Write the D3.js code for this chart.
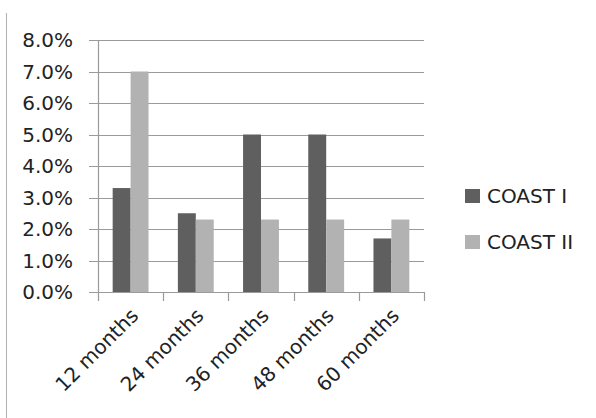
<!DOCTYPE html>
<html>
<head>
<meta charset="utf-8">
<script src="https://cdn.jsdelivr.net/npm/d3@7"></script>
<style>
  body { margin: 0; background: #fff; }
  text { font-family: "DejaVu Sans", sans-serif; fill: #222; }
</style>
</head>
<body>
<svg width="596" height="418"></svg>
<script>
var categories = ["12 months", "24 months", "36 months", "48 months", "60 months"];
var seriesNames = ["COAST I", "COAST II"];
var coast1 = [3.3, 2.5, 5.0, 5.0, 1.7];
var coast2 = [7.0, 2.3, 2.3, 2.3, 2.3];
var yTicks = [0, 1, 2, 3, 4, 5, 6, 7, 8];
var colors = ["#5f5f5f", "#b2b2b2"];

var margin = {top: 40, left: 98, right: 172, bottom: 126};
var svg = d3.select("svg");
var width = +svg.attr("width") - margin.left - margin.right;
var height = +svg.attr("height") - margin.top - margin.bottom;

// frame line on the left
svg.append("line")
  .attr("x1", 6.5).attr("x2", 6.5).attr("y1", 13).attr("y2", 418)
  .attr("stroke", "#b0b0b0");

var g = svg.append("g").attr("transform", `translate(${margin.left}, ${margin.top})`);

var x = d3.scaleBand().domain(categories).range([0, width]).paddingInner(0.45).paddingOuter(0.225);
var x1 = d3.scaleBand().domain(seriesNames).range([0, x.bandwidth()]);
var y = d3.scaleLinear().domain([0, 8]).range([height, 0]);

// gridlines
g.append("g").selectAll("line").data(yTicks).enter().append("line")
  .attr("x1", -9).attr("x2", width)
  .attr("y1", d => Math.round(y(d)) + 0.5).attr("y2", d => Math.round(y(d)) + 0.5)
  .attr("stroke", "#9a9a9a").attr("stroke-width", 1.2);

var rows = categories.map((c, i) => ({cat: c, vals: [coast1[i], coast2[i]]}));

g.append("g").selectAll("g").data(rows).enter().append("g")
  .attr("transform", d => `translate(${x(d.cat)},0)`)
  .selectAll("rect").data(d => d.vals.map((v, j) => ({name: seriesNames[j], v: v, j: j})))
  .enter().append("rect")
  .attr("x", d => x1(d.name))
  .attr("width", x1.bandwidth())
  .attr("y", d => y(d.v))
  .attr("height", d => y(0) - y(d.v))
  .attr("fill", d => colors[d.j]);

// y axis labels
g.append("g").selectAll("text").data(yTicks).enter().append("text")
  .attr("x", -25).attr("y", d => y(d)).attr("dy", "0.36em")
  .attr("text-anchor", "end").style("font-size", "20px")
  .text(d => d.toFixed(1) + "%");

// y axis line
g.append("line").attr("x1", 0.5).attr("x2", 0.5).attr("y1", 0).attr("y2", height)
  .attr("stroke", "#9a9a9a").attr("stroke-width", 1.2);

// x axis ticks at band edges
var edges = d3.range(categories.length + 1).map(i => i * x.step());
g.append("g").selectAll("line").data(edges).enter().append("line")
  .attr("x1", d => Math.round(d) + 0.5).attr("x2", d => Math.round(d) + 0.5)
  .attr("y1", height).attr("y2", height + 9)
  .attr("stroke", "#9a9a9a").attr("stroke-width", 1.2);

// x labels
g.append("g").selectAll("text").data(categories).enter().append("text")
  .attr("transform", d => `translate(${x(d) + x.bandwidth() / 2 + 9},${height + 25}) rotate(-45)`)
  .attr("text-anchor", "end").style("font-size", "20px")
  .text(d => d);

// legend
var legend = svg.append("g").attr("transform", "translate(465,189)");
seriesNames.forEach(function(n, i) {
  legend.append("rect").attr("x", 0).attr("y", i * 46).attr("width", 15).attr("height", 14)
    .attr("fill", colors[i]);
  legend.append("text").attr("x", 22).attr("y", i * 46 + 7).attr("dy", "0.36em")
    .style("font-size", "20px").text(n);
});
</script>
</body>
</html>
